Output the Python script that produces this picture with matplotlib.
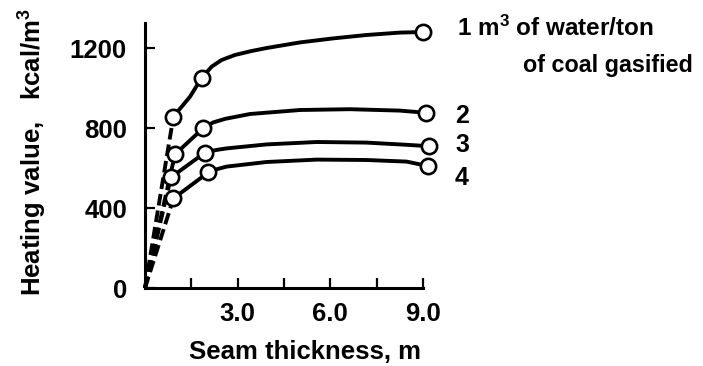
import numpy as np
from matplotlib import pyplot as plt

plt.rcParams['font.family'] = ['Liberation Sans', 'DejaVu Sans']
plt.rcParams['font.weight'] = 'bold'
plt.rcParams['mathtext.fontset'] = 'custom'
plt.rcParams['mathtext.rm'] = 'Liberation Sans:bold'
plt.rcParams['mathtext.default'] = 'rm'

# curve points (seam thickness in m, heating value in kcal/m3)
thick_1 = [0.92, 1.46, 1.83, 2.16, 2.48, 2.91, 3.45, 3.94, 5.02, 6.09, 7.17, 8.25, 9.0]
heat_1 = [857, 957, 1050, 1107, 1140, 1165, 1185, 1200, 1228, 1248, 1265, 1277, 1280]
thick_2 = [0.97, 1.89, 2.21, 2.6, 3.40, 5.02, 6.63, 8.25, 9.1]
heat_2 = [668, 800, 828, 846, 870, 890, 894, 887, 876]
thick_3 = [0.84, 1.94, 2.3, 2.64, 3.94, 5.56, 7.17, 8.47, 9.2]
heat_3 = [553, 677, 690, 698, 718, 730, 727, 716, 709]
thick_4 = [0.92, 2.05, 2.35, 2.64, 3.94, 5.56, 7.17, 8.47, 9.15]
heat_4 = [448, 578, 595, 607, 630, 642, 640, 632, 610]

# measured points (open circles)
mark_x_1 = [0.92, 1.83, 9.0]
mark_y_1 = [857, 1050, 1280]
mark_x_2 = [0.97, 1.89, 9.1]
mark_y_2 = [668, 800, 876]
mark_x_3 = [0.84, 1.94, 9.2]
mark_y_3 = [553, 677, 709]
mark_x_4 = [0.92, 2.05, 9.15]
mark_y_4 = [448, 578, 610]

curves = [(thick_1, heat_1, mark_x_1, mark_y_1),
          (thick_2, heat_2, mark_x_2, mark_y_2),
          (thick_3, heat_3, mark_x_3, mark_y_3),
          (thick_4, heat_4, mark_x_4, mark_y_4)]

x_ticks = [1.5, 3.0, 4.5, 6.0, 7.5, 9.0]
x_labels = ['', '3.0', '', '6.0', '', '9.0']
y_ticks = [0, 400, 800, 1200]

W, H = 703, 366
fig = plt.figure(figsize=(W / 100, H / 100), dpi=100)
ax = fig.add_axes([145 / W, 1 - 288 / H, 278 / W, 265 / H])

for tx, hy, mx, my in curves:
    ax.plot([0, tx[0]], [0, hy[0]], color='k', lw=2.8, ls=(0, (3, 1.3)),
            solid_capstyle='butt', clip_on=False)
    ax.plot(tx, hy, color='k', lw=2.8, solid_capstyle='round',
            solid_joinstyle='round', clip_on=False)
    ax.plot(mx, my, 'o', ms=11, mfc='white', mec='k', mew=1.9, clip_on=False, zorder=5)

ax.set_xlim(0, 9)
ax.set_ylim(0, 1325)
ax.spines['top'].set_visible(False)
ax.spines['right'].set_visible(False)
ax.spines['left'].set_linewidth(2.2)
ax.spines['bottom'].set_linewidth(2.2)
ax.set_xticks(x_ticks)
ax.set_xticklabels(x_labels)
ax.set_yticks(y_ticks)
ax.set_yticklabels([str(v) for v in y_ticks])
ax.tick_params(direction='in', length=7, width=1.6, labelsize=18.5)
ax.tick_params(axis='y', pad=13)
ax.tick_params(axis='x', pad=10)

fig.text(33 / W, 1 - 152 / H, 'Heating value,   kcal/m$^3$', rotation=90,
         ha='center', va='center', fontsize=18.5)
fig.text(305 / W, 1 - 359 / H, 'Seam thickness, m', ha='center', va='baseline',
         fontsize=18.5)

fig.text(457 / W, 1 - 36 / H, '1 m$^3$ of water/ton', va='baseline', fontsize=17.5)
fig.text(523 / W, 1 - 72 / H, 'of coal gasified', va='baseline', fontsize=16.8)
fig.text(455 / W, 1 - 123 / H, '2', va='baseline', fontsize=18)
fig.text(455 / W, 1 - 152 / H, '3', va='baseline', fontsize=18)
fig.text(455 / W, 1 - 185 / H, '4', va='baseline', fontsize=18)

fig.savefig('out.png', dpi=100)
